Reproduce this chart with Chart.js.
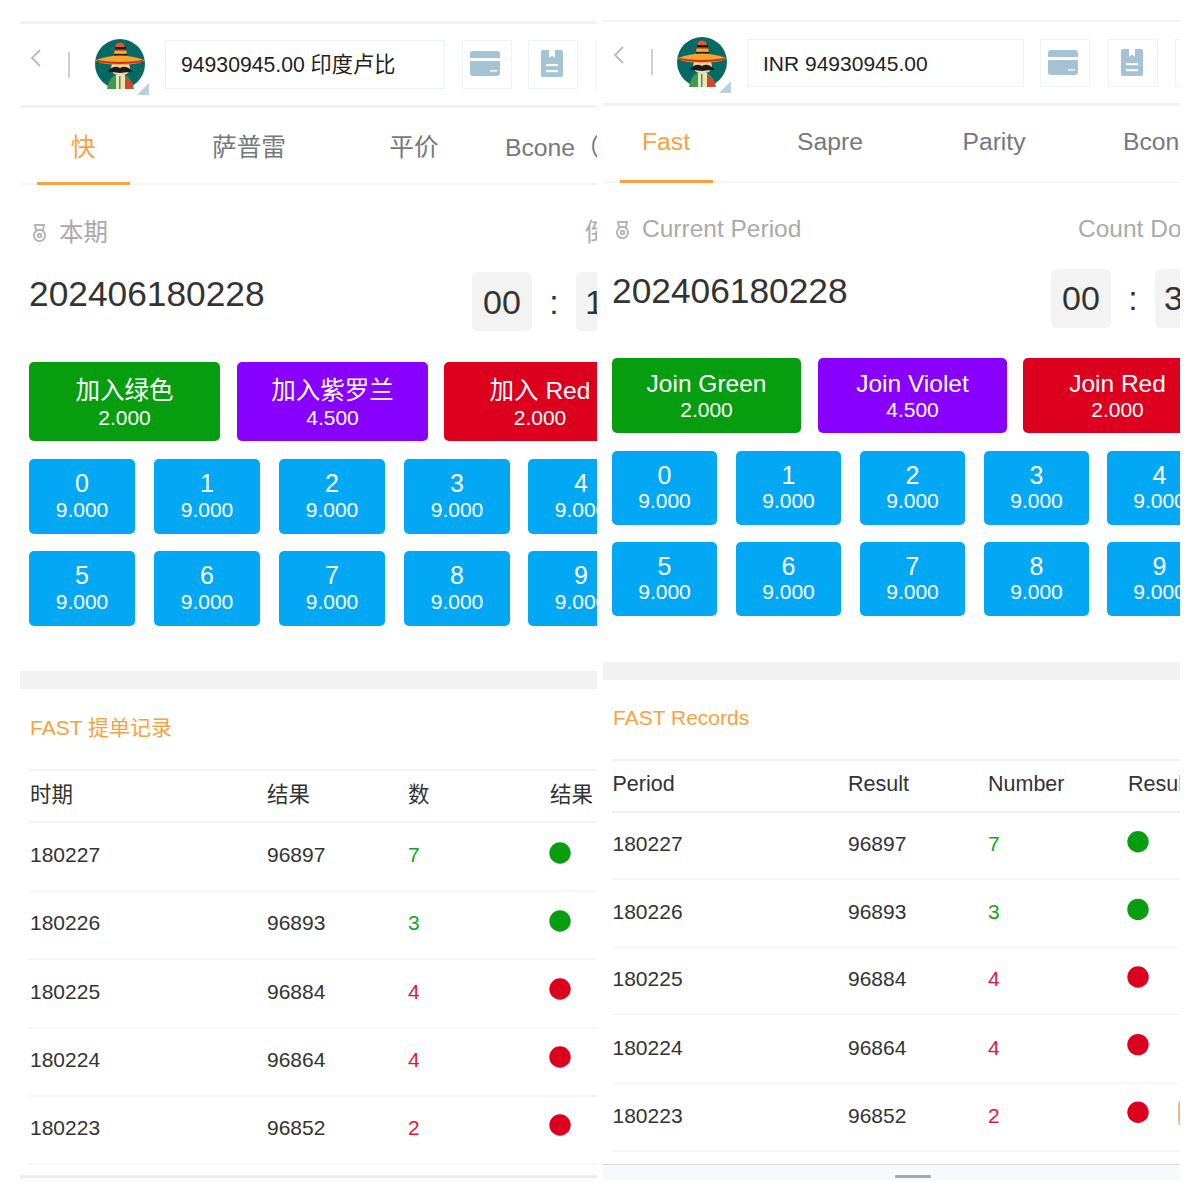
<!DOCTYPE html>
<html><head><meta charset="utf-8">
<script src="https://cdn.jsdelivr.net/npm/chart.js@4"></script>
<style>
html,body{margin:0;padding:0;background:#fff;width:1200px;height:1200px;overflow:hidden}
body{font-family:"Liberation Sans","Noto Sans CJK SC",sans-serif;position:relative}
.panel{position:absolute;top:0;height:1200px;overflow:hidden}
.t{position:absolute;white-space:nowrap;line-height:1}
.b{position:absolute}
canvas{position:absolute}
</style></head><body>
<script>
// ---- record table data ----
const periods = ["180227","180226","180225","180224","180223"];
const results = ["96897","96893","96884","96864","96852"];
const numbers = [7,3,4,4,2];
const outcomes = ["green","green","red","red","red"];
const digitsRow1 = ["0","1","2","3","4"];
const digitsRow2 = ["5","6","7","8","9"];
const digitOdds = "9.000";
const joinOdds = ["2.000","4.500","2.000"];
// ---- text of the two panels ----
const textZh = {balance:"94930945.00 印度卢比",tabs:["快","萨普雷","平价","Bcone（"],period:"本期",count:"倒",
  issue:"202406180228",clock:["00","1"],join:["加入绿色","加入紫罗兰","加入 Red"],records:"FAST 提单记录",heads:["时期","结果","数","结果"]};
const textEn = {balance:"INR 94930945.00",tabs:["Fast","Sapre","Parity","Bcone"],period:"Current Period",count:"Count Down",
  issue:"202406180228",clock:["00","3"],join:["Join Green","Join Violet","Join Red"],records:"FAST Records",heads:["Period","Result","Number","Result"]};
const C={green:"#069e0f",violet:"#8800ff",red:"#dc001e",blue:"#03a8f4",orange:"#f9a13e",line:"#f2f2f2",numG:"#12a51f",numR:"#e3173a"};

function panel(left,w){const d=document.createElement('div');d.className='panel';d.style.left=left+'px';d.style.width=w+'px';document.body.appendChild(d);return d;}
function txt(p,x,cy,s,size,color,anchor){const e=document.createElement('div');e.className='t';e.textContent=s;
  e.style.cssText+=`left:${x}px;top:${cy-size/2}px;font-size:${size}px;color:${color};`+(anchor==='c'?'transform:translateX(-50%);':'');p.appendChild(e);return e;}
function box(p,x,y,w,h,bg,r,extra){const e=document.createElement('div');e.className='b';
  e.style.cssText+=`left:${x}px;top:${y}px;width:${w}px;height:${h}px;background:${bg};border-radius:${r||0}px;${extra||''}`;p.appendChild(e);return e;}
function svg(p,x,y,w,h,vb,inner){const e=document.createElement('div');e.className='b';e.style.cssText+=`left:${x}px;top:${y}px;width:${w}px;height:${h}px;`;
  e.innerHTML=`<svg xmlns="http://www.w3.org/2000/svg" width="${w}" height="${h}" viewBox="${vb}">${inner}</svg>`;p.appendChild(e);}

const AVATAR=`<circle cx="25" cy="25" r="25" fill="#046a63"/>
<path d="M12 50 Q14 36 25 35 Q36 36 39 50 Z" fill="#3f9a4a"/><path d="M31 38 L39 46 L35 50 L29 50Z" fill="#d9442c"/>
<rect x="21" y="36" width="9" height="14" fill="#e9e3b8"/><rect x="24" y="37" width="1.5" height="13" fill="#3f9a4a"/>
<rect x="16" y="22" width="19" height="14" rx="7" fill="#f3d9b0"/>
<path d="M12 33 Q19 25 25 29 Q31 25 38 33 Q31 33 25 34 Q19 33 12 33Z" fill="#1c1c1c"/>
<path d="M18 19 L21 5 Q25 2 29 5 L33 19Z" fill="#e9552b"/><rect x="20" y="8" width="11" height="2.5" fill="#1c1c1c"/><rect x="19.5" y="12" width="12" height="2.5" fill="#f5b52e"/><rect x="19" y="15" width="13" height="2" fill="#1c1c1c"/>
<path d="M1 21 Q25 12 49 21 Q49 25 25 26 Q1 25 1 21Z" fill="#f5a52e"/><path d="M2 22 Q25 26 48 22" stroke="#c8301f" stroke-width="2" fill="none"/>`;
const CARD=`<rect x="0" y="0" width="30" height="25" rx="3" fill="#a4c3d5"/><rect x="0" y="7" width="30" height="3" fill="#fff"/><rect x="20" y="19" width="7" height="1.5" fill="#fff"/>`;
const BOOK=`<path d="M2 0H8V8L11 5.5L14 8V0H20Q22 0 22 2V25Q22 27 20 27H2Q0 27 0 25V2Q0 0 2 0Z" fill="#a4c3d5"/><rect x="5" y="14" width="12" height="2.2" fill="#fff"/><rect x="5" y="20" width="12" height="2.2" fill="#fff"/>`;
const MEDAL=`<g fill="none" stroke="#b5b5b5" stroke-width="1.9"><path d="M3 1H12L11 6H4Z"/><circle cx="7.5" cy="11.5" r="5.6"/><circle cx="7.5" cy="11.5" r="1.8"/></g>`;

function drawPanel(L,o,g){
  const p=panel(L,g.w);
  box(p,0,g.line1,g.w,g.line1h,C.line);
  svg(p,g.chev,g.chevY,12,18,"0 0 12 18",`<path d="M10 1L2 9L10 17" fill="none" stroke="#b9b9b9" stroke-width="1.8"/>`);
  box(p,g.sep,g.sepY,1.5,26,"#cfcfcf");
  svg(p,g.av,g.avY,50,50,"0 0 50 50",AVATAR);
  svg(p,g.av+42,g.avY+42,12,12,"0 0 12 12",`<path d="M12 0V12H0Z" fill="#b9d0df"/>`);
  box(p,g.inp,g.inpY,g.inpW,g.inpH,"#fff",0,"border:1.5px solid #eef3f8;box-sizing:border-box;");
  txt(p,g.inp+16,g.inpY+24.5,o.balance,g.balSize,"#222");
  g.iconBoxes.forEach((x,i)=>{box(p,x,g.inpY,50,g.inpH,"#fff",0,"border:1.5px solid #eef3f8;box-sizing:border-box;");
    if(i===0)svg(p,x+8,g.inpY+11,30,25,"0 0 30 25",CARD);
    if(i===1)svg(p,x+13,g.inpY+10,22,27,"0 0 22 27",BOOK);});
  box(p,0,g.line2,g.w,2.5,C.line);
  g.tabX.forEach((x,i)=>txt(p,x,g.tabY,o.tabs[i],24.7,i===0?C.orange:"#75787c",i<3?'c':null));
  box(p,0,g.ulY+1,g.w,1.5,"#f6f6f6");
  box(p,g.ulX,g.ulY,93,2.5,C.orange);
  svg(p,g.medal,g.labelY-8,15,18,"0 0 15 18",MEDAL);
  txt(p,g.medal+27,g.labelY+g.lblFix,o.period,24.5,"#aaaaaa");
  txt(p,g.countX,g.labelY+g.lblFix,o.count,24.5,"#aaaaaa");
  txt(p,g.medal-3,g.issueY,o.issue,35.3,"#333");
  box(p,g.clock,g.clockY,60,59,"#f3f3f3",6);
  txt(p,g.clock+30,g.clockY+g.clockT,o.clock[0],34,"#333",'c');
  txt(p,g.clock+82,g.clockY+g.clockT,":",34,"#333",'c');
  box(p,g.clock+104,g.clockY,60,59,"#f3f3f3",6);
  txt(p,g.clock+113,g.clockY+g.clockT,o.clock[1],34,"#333");
  [C.green,C.violet,C.red].forEach((c,i)=>{const x=g.joinX[i];
    box(p,x,g.joinY,g.joinW,g.joinH,c,5);
    const cx=i===2&&L===20?x+96:x+g.joinW/2;
    txt(p,cx,g.joinY+g.jt1,o.join[i],24.5,"#fff",'c');
    txt(p,cx,g.joinY+g.jt2,joinOdds[i],21,"#fff",'c');});
  [digitsRow1,digitsRow2].forEach((row,r)=>row.forEach((d,i)=>{const x=g.numX[i],y=g.numY[r];
    box(p,x,y,g.numW,g.numH,C.blue,5);
    txt(p,x+g.numW/2,y+24,d,25,"#fff",'c');
    txt(p,x+g.numW/2,y+g.numT,digitOdds,21,"#fff",'c');}));
  box(p,0,g.band,g.w,18,"#f2f2f2");
  txt(p,g.medal-2,g.recY,o.records,21,C.orange);
  box(p,g.medal-3,g.headTop,g.w,2,C.line); box(p,g.medal-3,g.headBot,g.w,2,C.line);
  g.colX.forEach((x,i)=>txt(p,x,g.headY,o.heads[i],21.5,"#333"));
  periods.forEach((per,i)=>{const y=g.rowY[i];
    txt(p,g.colX[0],y,per,21,"#333");
    txt(p,g.colX[1],y,results[i],21,"#333");
    txt(p,g.colX[2],y,String(numbers[i]),21,outcomes[i]==="green"?C.numG:C.numR);
    box(p,g.medal-3,y+g.rowLine,g.w,2,"#f6f6f6");});
  // result dots: drawn by Chart.js
  const cv=document.createElement('canvas');
  cv.style.left=g.dotX-30+'px';cv.style.top=g.chartTop+'px';p.appendChild(cv);
  cv.width=60;cv.height=g.chartH;cv.style.width='60px';cv.style.height=g.chartH+'px';
  new Chart(cv,{type:'scatter',data:{datasets:[{
      data:periods.map((per,i)=>({x:o.heads[3],y:per})),
      pointRadius:10.7,pointHoverRadius:10.7,borderWidth:0,clip:false,
      pointBackgroundColor:outcomes.map(c=>C[c]),pointBorderColor:outcomes.map(c=>C[c])}]},
    options:{responsive:false,animation:false,devicePixelRatio:1,layout:{padding:0,autoPadding:false},
      plugins:{legend:{display:false},tooltip:{enabled:false}},
      scales:{x:{type:'category',labels:[o.heads[3]],offset:true,display:false},
              y:{type:'category',labels:periods,offset:true,display:false}}}});
  return p;
}
const gL={w:577,line1:21,line1h:3,chev:10,chevY:49,sep:48,sepY:52,av:75,avY:39,inp:145,inpY:40,inpW:280,inpH:49,balSize:21.2,iconBoxes:[442,508,575],
  line2:105,tabX:[63,229,394,485],tabY:148,ulX:17,ulY:182,medal:12,labelY:232,lblFix:1,countX:565,issueY:293.5,clock:452,clockY:272,clockT:30,
  joinX:[9,217,424],joinY:362,joinW:191,joinH:79,jt1:29,jt2:55,numX:[9,134,259,384,508],numY:[459,551],numW:106,numH:75,numT:50,
  band:671,recY:727,headTop:769,headBot:821,headY:796,colX:[10,247,388,530],rowY:[854.5,922.5,991.5,1059.5,1127.5],rowLine:35,dotX:540,chartTop:819,chartH:340};
const gR={w:577,line1:20,line1h:1.5,chev:10,chevY:46,sep:48,sepY:49,av:74,avY:37,inp:144,inpY:39,inpW:277,inpH:48,balSize:21,iconBoxes:[437,505,572],
  line2:103,tabX:[63,227,391,520],tabY:142,ulX:17,ulY:180,medal:12,labelY:229,lblFix:0,countX:475,issueY:290.5,clock:448,clockY:269,clockT:28.5,
  joinX:[9,215,420],joinY:358,joinW:189,joinH:75,jt1:26,jt2:51.5,numX:[9,133,257,381,504],numY:[451,542],numW:105,numH:74,numT:49.5,
  band:662,recY:717,headTop:759,headBot:811,headY:785,colX:[9.5,245,385,525],rowY:[843.5,911.5,978.5,1047.5,1115.5],rowLine:34,dotX:535,chartTop:808,chartH:338};
const pl=drawPanel(20,textZh,gL);
box(pl,0,1175,577,2.5,"#ececec");
const pr=drawPanel(603,textEn,gR);
box(pr,0,1164,577,16,"#f8f9fc",0,"border-top:1.5px solid #d8d8d8;box-sizing:border-box;");
box(pr,292,1175,36,2.5,"#a8a8a8",1);
box(pr,575,1098,14,30,"rgba(217,163,84,.75)",14);
</script>
</body></html>
